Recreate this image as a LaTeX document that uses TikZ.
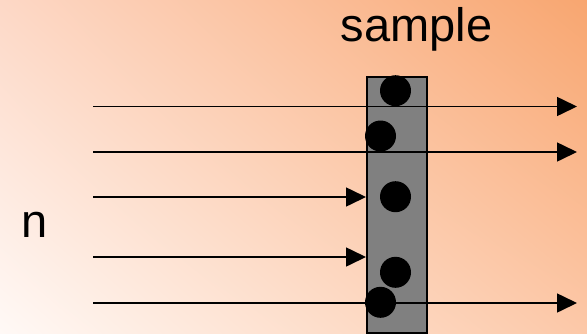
\documentclass[tikz,border=0pt]{standalone}
\usepackage{fontspec}
\setmainfont{Liberation Sans}
\usetikzlibrary{arrows.meta,shadings}

\definecolor{bgTL}{HTML}{FDD8C6}
\definecolor{bgTR}{HTML}{F8A670}
\definecolor{bgBL}{HTML}{FFF9F6}
\definecolor{bgBR}{HTML}{FCC8A8}
\definecolor{samplegray}{HTML}{808080}

\tikzset{
  beam/.style={line width=1.6pt, -{Triangle[length=20pt,width=19pt]}},
  samplebox/.style={draw=black, line width=1.6pt, fill=samplegray,
    minimum width=60pt, minimum height=256pt, inner sep=0pt, anchor=north west},
  atom/.style={circle, fill=black, minimum size=31pt, inner sep=0pt},
  bigtext/.style={font=\fontsize{47}{56}\selectfont, inner sep=0pt, anchor=base}
}

\begin{document}
\begin{tikzpicture}[x=1pt, y=-1pt]
  % background gradient
  \shade[upper left=bgTL, upper right=bgTR, lower left=bgBL, lower right=bgBR]
    (0,0) rectangle (587,333);
  \useasboundingbox (0,0) rectangle (587,333);

  % sample slab
  \node[samplebox] (slab) at (366,76) {};

  % beam end points
  \coordinate (s1) at (93,106.5);
  \coordinate (s2) at (93,152);
  \coordinate (s3) at (93,197);
  \coordinate (s4) at (93,257);
  \coordinate (s5) at (93,303);
  \coordinate (e1) at (577,106.5);
  \coordinate (e2) at (577,152);
  \coordinate (e5) at (577,303);

  % beams
  \draw[beam] (s1) -- (e1);
  \draw[beam] (s2) -- (e2);
  \draw[beam] (s3) -- (s3 -| slab.west);
  \draw[beam] (s4) -- (s4 -| slab.west);
  \draw[beam] (s5) -- (e5);

  % scattering centres
  \node[atom] (a1) at (395.5,90.7) {};
  \node[atom] (a2) at (380.5,136) {};
  \node[atom] (a3) at (395.5,196.7) {};
  \node[atom] (a4) at (395.5,272.3) {};
  \node[atom] (a5) at (380.5,302.3) {};

  % labels
  \node[bigtext] (lsample) at (416.5,41.7) {sample};
  \node[bigtext] (ln) at (34.5,237) {n};
\end{tikzpicture}
\end{document}
